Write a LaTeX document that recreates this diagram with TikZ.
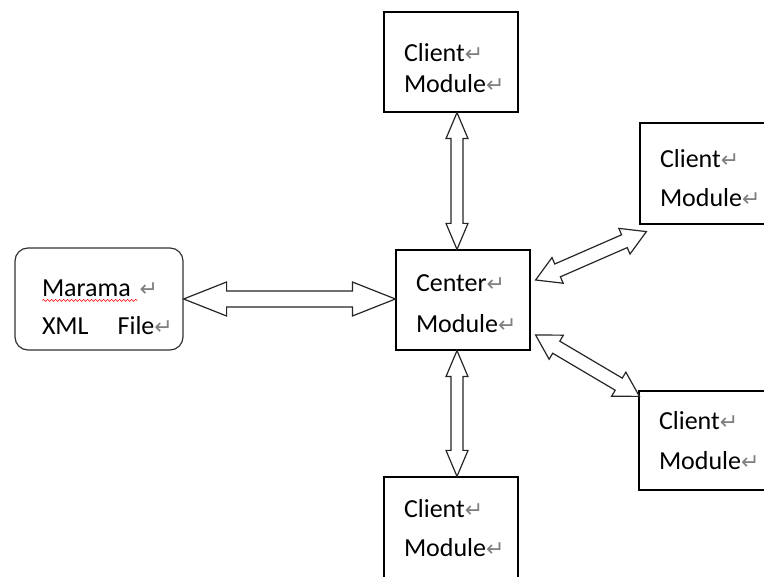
\documentclass[tikz,border=0pt]{standalone}
\usepackage{fontspec}
\setmainfont{Carlito}
\newfontfamily\retfont{DejaVu Sans}
\usetikzlibrary{positioning}
\usetikzlibrary{calc}
\usetikzlibrary{decorations.pathmorphing}

\newcommand{\ret}{{\retfont\fontsize{22}{22}\selectfont\textcolor{black!50}{↵}}}

% hollow two-headed block arrow: from, to, head length, head half width, shaft half width
\newcommand{\blockarrow}[5]{%
  \draw [blockarr] let \p1=(#1), \p2=(#2),
      \n1={atan2(\y2-\y1,\x2-\x1)}, \n2={\n1+90} in
    (\p1) -- ($(\p1)+(\n1:#3)+(\n2:#4)$) -- ($(\p1)+(\n1:#3)+(\n2:#5)$)
    -- ($(\p2)+(\n1:-#3)+(\n2:#5)$) -- ($(\p2)+(\n1:-#3)+(\n2:#4)$)
    -- (\p2) -- ($(\p2)+(\n1:-#3)+(\n2:-#4)$) -- ($(\p2)+(\n1:-#3)+(\n2:-#5)$)
    -- ($(\p1)+(\n1:#3)+(\n2:-#5)$) -- ($(\p1)+(\n1:#3)+(\n2:-#4)$) -- cycle;}

\begin{document}
\begin{tikzpicture}[x=1pt,y=-1pt,
    blockarr/.style={draw=black!85,fill=white,line width=1.2pt,line join=miter},
    lines/.style 2 args={text depth=#1,font=\fontsize{26}{#2}\selectfont}]
\fill[white] (0,0) rectangle (764,577);
\useasboundingbox (0,0) rectangle (764,577);
\clip (0,0) rectangle (764,577);

\begin{scope}[every node/.style={draw,rectangle,line width=1.2pt,align=left,inner xsep=20pt,
      text height=20pt}]
    \node [text width=94pt,minimum height=100pt,lines={20pt}{31pt}] (top) at (451,62) {Client\ret\\Module\ret};
    \node [text width=94pt,minimum height=100pt,lines={36pt}{41pt}] (center) at (463,300) {Center\ret\\Module\ret};
    \node [text width=94pt,minimum height=104pt,lines={42pt}{39pt}] (bot) at (451,529) {Client\ret\\Module\ret};
    \node [text width=120pt,minimum height=101pt,lines={31pt}{39pt}] (ur) at (720,173.5) {Client\ret\\Module\ret};
    \node [text width=120pt,minimum height=99pt,lines={41pt}{40pt}] (lr) at (719,440.5) {Client\ret\\Module\ret};
    \node [draw=black!80,rounded corners=13pt,text width=114pt,inner xsep=27pt,minimum height=102pt,
        lines={24pt}{38pt}] (mar) at (99,299)
        {\mbox{Marama \ret}\\\mbox{XML\hspace{29pt}File\ret}};
\end{scope}

% spell check line
\draw [red,line width=0.6pt,decorate,decoration={snake,amplitude=1pt,segment length=4pt}]
    ($(mar.north west)+(28,53)$) -- ($(mar.north west)+(123,53)$);

\coordinate (vx) at (457,0);
\blockarrow{top.south -| vx}{center.north -| vx}{26pt}{11pt}{6pt}
\blockarrow{center.south -| vx}{bot.north -| vx}{26pt}{11pt}{6pt}
\blockarrow{mar.east}{center.west |- mar.east}{43pt}{17pt}{8pt}
\blockarrow{$(center.east)+(5,-20)$}{$(ur.south west)+(7,7)$}{24pt}{14pt}{7pt}
\blockarrow{$(center.east)+(5,35)$}{$(lr.north west)+(1,6)$}{24pt}{14pt}{7pt}
\end{tikzpicture}
\end{document}
